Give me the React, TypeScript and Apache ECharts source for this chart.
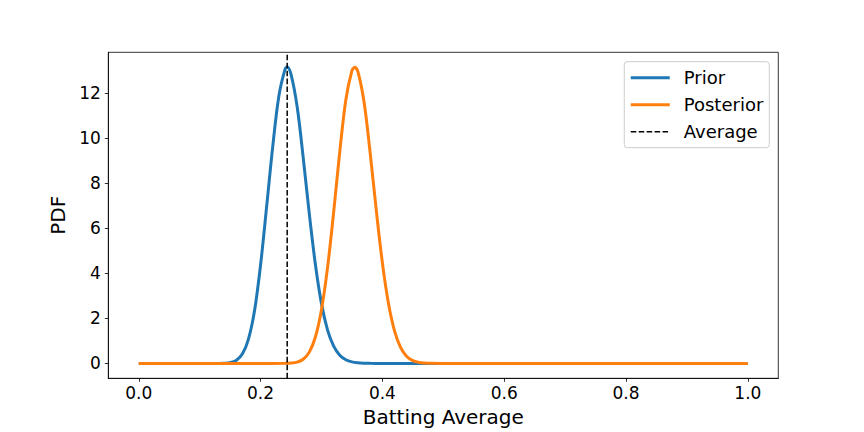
import React, { useEffect, useRef } from "react";
import * as echarts from "echarts";

// Batting average grid points and PDF values
const priorX = [0.0, 0.1, 0.13, 0.14, 0.15, 0.16, 0.17, 0.18, 0.19, 0.2, 0.21, 0.22, 0.23, 0.24, 0.2437, 0.25, 0.26, 0.27, 0.28, 0.29, 0.3, 0.31, 0.32, 0.33, 0.34, 0.35, 0.36, 0.37, 0.38, 0.4, 1.0];
const priorY = [0, 0, 0.001, 0.007, 0.035, 0.134, 0.415, 1.07, 2.33, 4.38, 6.98, 9.65, 11.88, 13.06, 13.18, 12.85, 11.42, 9.15, 6.65, 4.4, 2.66, 1.48, 0.77, 0.37, 0.165, 0.068, 0.027, 0.01, 0.004, 0, 0];

const posteriorX = [0.0, 0.2, 0.24, 0.25, 0.26, 0.27, 0.28, 0.29, 0.3, 0.31, 0.32, 0.33, 0.34, 0.35, 0.3546, 0.36, 0.37, 0.38, 0.39, 0.4, 0.41, 0.42, 0.43, 0.44, 0.45, 0.46, 0.47, 0.48, 0.5, 1.0];
const posteriorY = [0, 0, 0.004, 0.016, 0.06, 0.187, 0.503, 1.175, 2.39, 4.27, 6.73, 9.4, 11.72, 13.02, 13.16, 12.95, 11.6, 9.34, 6.8, 4.47, 2.66, 1.435, 0.703, 0.312, 0.126, 0.046, 0.015, 0.005, 0, 0];

const averageValue = 0.2437;

const xTicks = [0, 0.2, 0.4, 0.6, 0.8, 1.0];
const yTicks = [0, 2, 4, 6, 8, 10, 12];
const xRange = [-0.05, 1.05];
const yRange = [-0.66, 13.83];

const seriesNames = ["Prior", "Posterior", "Average"];

const FONT = "'DejaVu Sans', sans-serif";

export default function App() {
  const ref = useRef<HTMLDivElement>(null);

  useEffect(() => {
    if (!ref.current) return;
    const chart = echarts.init(ref.current, null, { renderer: "svg" });

    const priorData = priorX.map((x, i) => [x, priorY[i]]);
    const posteriorData = posteriorX.map((x, i) => [x, posteriorY[i]]);
    const averageData = [
      [averageValue, yRange[0]],
      [averageValue, yRange[1]],
    ];

    chart.setOption({
      animation: false,
      backgroundColor: "#ffffff",
      textStyle: { fontFamily: FONT },
      grid: {
        left: 108.3,
        right: 85.7,
        top: 52.3,
        bottom: 53.7,
        show: true,
        borderColor: "#000",
        borderWidth: 0.8,
        backgroundColor: "transparent",
      },
      legend: {
        orient: "vertical",
        right: 94.7,
        top: 61.7,
        data: [
          { name: seriesNames[0], lineStyle: { width: 3 } },
          { name: seriesNames[1], lineStyle: { width: 3 } },
          { name: seriesNames[2], lineStyle: { width: 1.5 } },
        ],
        itemWidth: 39,
        itemHeight: 14,
        itemGap: 9,
        padding: [7, 6, 7, 5],
        borderColor: "#cccccc",
        borderWidth: 1,
        borderRadius: 3,
        backgroundColor: "rgba(255,255,255,0.8)",
        itemStyle: {
          color: "rgba(0,0,0,0)",
          borderColor: "rgba(0,0,0,0)",
          borderWidth: 0,
        },
        textStyle: {
          fontFamily: FONT,
          fontSize: 18,
          color: "#000",
          lineHeight: 18,
          padding: [0, 0, 0, 9],
        },
      },
      xAxis: {
        type: "value",
        min: xRange[0],
        max: xRange[1],
        name: "Batting Average",
        nameLocation: "middle",
        nameGap: 26,
        nameTextStyle: { fontFamily: FONT, fontSize: 20, color: "#000", verticalAlign: "top" },
        splitLine: { show: false },
        axisLine: { show: true, onZero: false, lineStyle: { color: "#000", width: 0.8 } },
        axisTick: {
          show: true,
          length: 3.5,
          customValues: xTicks,
          lineStyle: { color: "#000", width: 0.8 },
        },
        axisLabel: {
          show: true,
          customValues: xTicks,
          margin: 6.5,
          fontFamily: FONT,
          fontSize: 17,
          color: "#000",
          formatter: (v: number) => v.toFixed(1),
        },
      },
      yAxis: {
        type: "value",
        min: yRange[0],
        max: yRange[1],
        name: "PDF",
        nameLocation: "middle",
        nameGap: 35,
        nameRotate: 90,
        nameTextStyle: { fontFamily: FONT, fontSize: 20, color: "#000" },
        splitLine: { show: false },
        axisLine: { show: true, onZero: false, lineStyle: { color: "#000", width: 0.8 } },
        axisTick: {
          show: true,
          length: 3.5,
          customValues: yTicks,
          lineStyle: { color: "#000", width: 0.8 },
        },
        axisLabel: {
          show: true,
          customValues: yTicks,
          margin: 7.5,
          fontFamily: FONT,
          fontSize: 17,
          color: "#000",
          formatter: (v: number) => String(v),
        },
      },
      series: [
        {
          name: seriesNames[0],
          type: "line",
          data: priorData,
          symbol: "none",
          smooth: 0.35,
          lineStyle: { color: "#1f77b4", width: 3 },
          itemStyle: { color: "#1f77b4" },
          z: 2,
        },
        {
          name: seriesNames[1],
          type: "line",
          data: posteriorData,
          symbol: "none",
          smooth: 0.35,
          lineStyle: { color: "#ff7f0e", width: 3 },
          itemStyle: { color: "#ff7f0e" },
          z: 3,
        },
        {
          name: seriesNames[2],
          type: "line",
          data: averageData,
          symbol: "none",
          lineStyle: { color: "#000", width: 1.5, type: [5.55, 2.4] },
          itemStyle: { color: "#000" },
          z: 4,
        },
      ],
    });

    return () => {
      chart.dispose();
    };
  }, []);

  return (
    <div
      ref={ref}
      style={{ position: "fixed", left: 0, top: 0, width: 864, height: 432, background: "#fff" }}
    />
  );
}
